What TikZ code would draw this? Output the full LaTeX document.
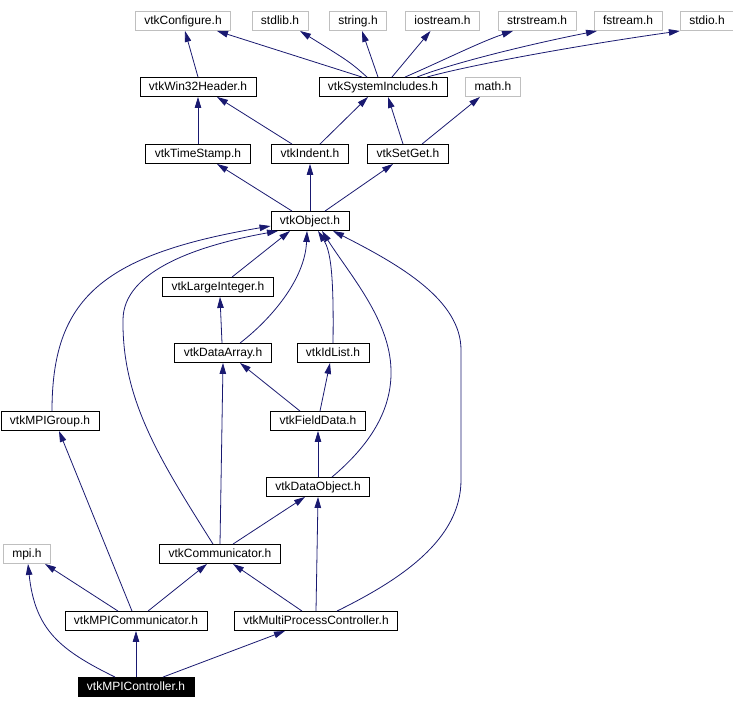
\documentclass[tikz,border=0pt]{standalone}
\usepackage{fontspec}
\setmainfont{Liberation Sans}
\usepackage{tikz}
\usetikzlibrary{arrows.meta,positioning}
\definecolor{dxnavy}{HTML}{191970}
\definecolor{dxgray}{HTML}{BFBFBF}
\tikzset{
  >={Triangle[length=11pt,width=6.5pt]},
  % filer
  hf/.style={rectangle,draw=black,fill=white,line width=0.9pt,inner xsep=9pt,
             inner ysep=0pt,minimum height=19pt,text height=9pt,text depth=2.5pt,
             font=\fontsize{12}{14}\selectfont},
  hsys/.style={hf,draw=dxgray},
  hcur/.style={hf,fill=black,text=white},
  % beroenden
  dep/.style={->,draw=dxnavy,line width=0.8pt},
}
\begin{document}
\begin{tikzpicture}[x=1pt,y=-1pt]
  \useasboundingbox (0,0) rectangle (733,709);
  \node[hsys] (conf)   at (183,21)  {vtkConfigure.h};
  \node[hsys] (stdlib) at (280,21)  {stdlib.h};
  \node[hsys] (string) at (358,21)  {string.h};
  \node[hsys] (ios)    at (442.5,21) {iostream.h};
  \node[hsys] (sstr)   at (537,21)  {strstream.h};
  \node[hsys] (fstr)   at (628,21)  {fstream.h};
  \node[hsys] (stdio)  at (707,21)  {stdio.h};
  \node[hf]   (win32)  at (198,87)  {vtkWin32Header.h};
  \node[hf]   (sysinc) at (383,87)  {vtkSystemIncludes.h};
  \node[hsys] (math)   at (493,87)  {math.h};
  \node[hf]   (tstamp) at (198,154) {vtkTimeStamp.h};
  \node[hf]   (indent) at (310,154) {vtkIndent.h};
  \node[hf]   (setget) at (408,154) {vtkSetGet.h};
  \node[hf]   (object) at (310,221) {vtkObject.h};
  \node[hf]   (lint)   at (218,287) {vtkLargeInteger.h};
  \node[hf]   (darray) at (223,353) {vtkDataArray.h};
  \node[hf]   (idlist) at (333,353) {vtkIdList.h};
  \node[hf]   (mpigrp) at (50,421)  {vtkMPIGroup.h};
  \node[hf]   (fdata)  at (318,421) {vtkFieldData.h};
  \node[hf]   (dobj)   at (318,487) {vtkDataObject.h};
  \node[hsys] (mpi)    at (27,554)  {mpi.h};
  \node[hf]   (comm)   at (220,554) {vtkCommunicator.h};
  \node[hf]   (mpicomm) at (136,621) {vtkMPICommunicator.h};
  \node[hf]   (mpc)    at (316,621) {vtkMultiProcessController.h};
  \node[hcur] (mpictl) at (136,687) {vtkMPIController.h};
  % systemfiler
  \draw[dep] (win32.north) -- ([xshift=2]conf.south);
  \draw[dep] ([xshift=-21]sysinc.north) -- ([xshift=34]conf.south);
  \draw[dep] ([xshift=-16]sysinc.north) .. controls (350,62) .. ([xshift=20]stdlib.south);
  \draw[dep] ([xshift=-5]sysinc.north) -- ([xshift=4]string.south);
  \draw[dep] ([xshift=9]sysinc.north) -- ([xshift=-12]ios.south);
  \draw[dep] ([xshift=22]sysinc.north) .. controls (440,62) and (480,42) .. ([xshift=-24]sstr.south);
  \draw[dep] ([xshift=34]sysinc.north) .. controls (455,62) and (540,42) .. ([xshift=-31]fstr.south);
  \draw[dep] ([xshift=44]sysinc.north) .. controls (470,65) and (580,45) .. (stdio.south west);
  \draw[dep] (tstamp.north) -- (win32.south);
  \draw[dep] ([xshift=-18]indent.north) -- ([xshift=19]win32.south);
  \draw[dep] ([xshift=10]indent.north) -- ([xshift=-15]sysinc.south);
  \draw[dep] ([xshift=-5]setget.north) -- ([xshift=5]sysinc.south);
  \draw[dep] ([xshift=14]setget.north) -- ([xshift=-13]math.south);
  \draw[dep] ([xshift=-18]object.north) -- ([xshift=19]tstamp.south);
  \draw[dep] (object.north) -- (indent.south);
  \draw[dep] ([xshift=15]object.north) -- ([xshift=-15]setget.south);
  % vtkObject
  \draw[dep] ([xshift=14]lint.north) -- ([xshift=-20]object.south);
  \draw[dep] ([xshift=2]mpigrp.north) .. controls (52,300) and (100,255) .. ([yshift=-5]object.west);
  \draw[dep] ([xshift=-7]comm.north) .. controls (160,460) and (122,400) .. (123,320)
    .. controls (123,270) and (200,245) .. ([xshift=-32]object.south);
  \draw[dep] ([xshift=-1]darray.north) -- ([xshift=2]lint.south);
  \draw[dep] ([xshift=17]darray.north) .. controls (270,320) and (305,280) .. ([xshift=-3]object.south);
  \draw[dep] (idlist.north) .. controls (334,270) and (330,250) .. ([xshift=8]object.south);
  \draw[dep] ([xshift=-18]fdata.north) -- ([xshift=17]darray.south);
  \draw[dep] ([xshift=2]fdata.north) -- ([xshift=-3]idlist.south);
  \draw[dep] (dobj.north) -- (fdata.south);
  \draw[dep] ([xshift=14]dobj.north) .. controls (370,445) and (392,410) .. (391,370)
    .. controls (390,320) and (350,275) .. ([xshift=12]object.south);
  \draw[dep] ([xshift=21]mpc.north) .. controls (400,580) and (461,540) .. (461,480)
    -- (461,350) .. controls (461,300) and (400,265) .. ([xshift=23]object.south);
  % nedre delen
  \draw[dep] (comm.north) -- (darray.south);
  \draw[dep] ([xshift=13]comm.north) -- ([xshift=-13]dobj.south);
  \draw[dep] ([xshift=-14]mpc.north) -- ([xshift=13]comm.south);
  \draw[dep] (mpc.north) -- (dobj.south);
  \draw[dep] ([xshift=-18]mpicomm.north) -- ([xshift=18]mpi.south);
  \draw[dep] ([xshift=12]mpicomm.north) -- ([xshift=-13]comm.south);
  \draw[dep] ([xshift=-4]mpicomm.north) -- ([xshift=9]mpigrp.south);
  \draw[dep] ([xshift=-21]mpictl.north) .. controls (60,650) and (35,630) .. ([xshift=1]mpi.south);
  \draw[dep] (mpictl.north) -- (mpicomm.south);
  \draw[dep] ([xshift=27]mpictl.north) -- ([xshift=-31]mpc.south);
\end{tikzpicture}
\end{document}
